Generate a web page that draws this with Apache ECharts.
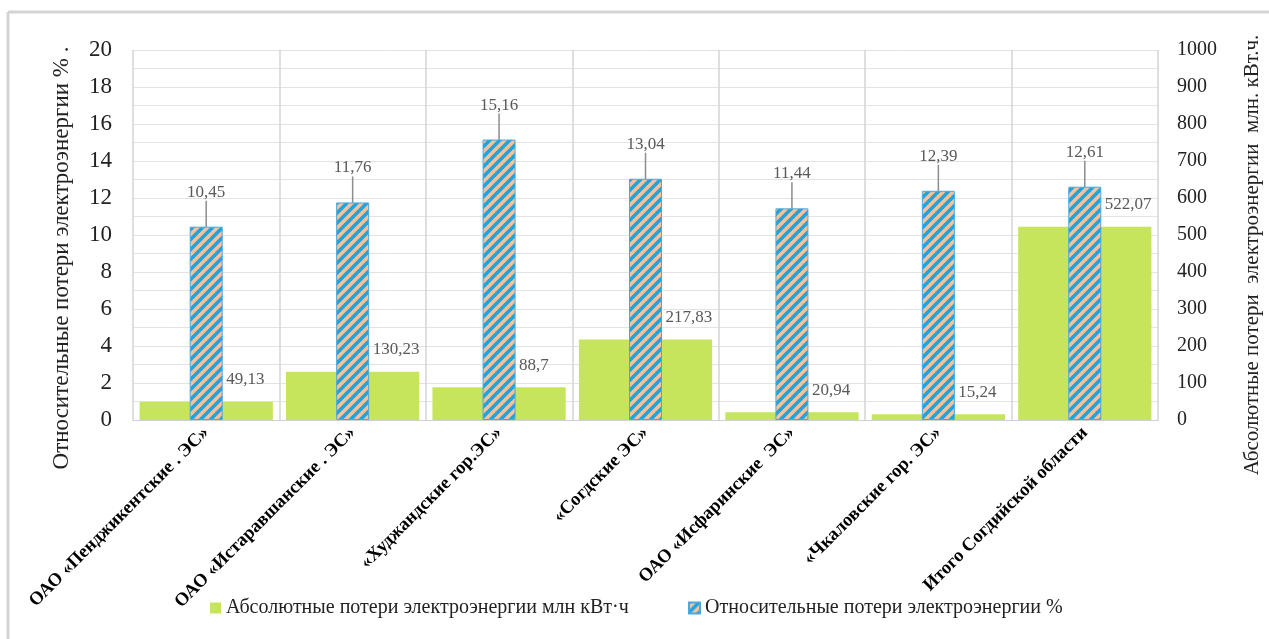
<!DOCTYPE html>
<html>
<head>
<meta charset="utf-8">
<script src="https://cdn.jsdelivr.net/npm/echarts@6/dist/echarts.min.js"></script>
<style>
  html, body { margin: 0; padding: 0; background: #fff; }
  #main { width: 1269px; height: 639px; }
</style>
</head>
<body>
<div id="main"></div>
<script>
// categories (x axis)
var categories = [
  'ОАО «Пенджикентские . ЭС»',
  'ОАО «Истаравшанские . ЭС»',
  '«Худжандские гор.ЭС»',
  '«Согдские ЭС»',
  'ОАО «Исфаринские  ЭС»',
  '«Чкаловские гор. ЭС»',
  'Итого Согдийской области'
];
// absolute losses, mln kWh (right axis)
var absLoss = [49.13, 130.23, 88.7, 217.83, 20.94, 15.24, 522.07];
// relative losses, % (left axis)
var relLoss = [10.45, 11.76, 15.16, 13.04, 11.44, 12.39, 12.61];

var absName = 'Абсолютные потери электроэнергии млн кВт·ч';
var relName = 'Относительные потери электроэнергии %';

// diagonal hatch for the relative series
function makeHatch() {
  var c = document.createElement('canvas');
  var s = 10;
  c.width = s; c.height = s;
  var ctx = c.getContext('2d');
  ctx.fillStyle = '#f8c29c';
  ctx.fillRect(0, 0, s, s);
  ctx.strokeStyle = '#1ea5de';
  ctx.lineWidth = 3.6;
  ctx.beginPath();
  ctx.moveTo(-2, s + 2); ctx.lineTo(s + 2, -2);
  ctx.moveTo(-2, 2); ctx.lineTo(2, -2);
  ctx.moveTo(s - 2, s + 2); ctx.lineTo(s + 2, s - 2);
  ctx.stroke();
  return c;
}
var hatch = { image: makeHatch(), repeat: 'repeat' };

function comma(p) {
  return String(p.value).replace('.', ',');
}

var font = 'Liberation Serif';
var chart = echarts.init(document.getElementById('main'));

var legendBase = {
  bottom: 16,
  itemWidth: 11,
  itemHeight: 11,
  icon: 'rect',
  formatter: '{t|{name}}',
  textStyle: {
    fontFamily: font, fontSize: 20, color: '#222',
    rich: { t: { fontFamily: font, fontSize: 20, color: '#222' } }
  }
};

var option = {
  animation: false,
  textStyle: { fontFamily: font },
  graphic: [
    { type: 'line', shape: { x1: 8, y1: 12, x2: 1269, y2: 12 }, style: { stroke: '#d4d4d4', lineWidth: 3 } },
    { type: 'line', shape: { x1: 8, y1: 12, x2: 8, y2: 639 }, style: { stroke: '#d4d4d4', lineWidth: 3 } }
  ],
  grid: { left: 133, right: 111, top: 50, bottom: 219, containLabel: false, outerBoundsMode: 'none' },
  legend: [
    Object.assign({}, legendBase, { left: 205, data: [absName] }),
    Object.assign({}, legendBase, { left: 683, data: [relName] })
  ],
  xAxis: [
    {
      type: 'category',
      data: categories,
      axisLine: { lineStyle: { color: '#d0d0d0', width: 1 } },
      axisTick: { show: false },
      splitLine: { show: true, interval: 0, lineStyle: { color: '#d4d4d4', width: 1.5 } },
      axisLabel: {
        interval: 0,
        rotate: 45,
        margin: 10,
        fontFamily: font,
        fontWeight: 'bold',
        fontSize: 18.5,
        color: '#000'
      }
    },
    {
      type: 'category',
      data: categories,
      show: false
    }
  ],
  yAxis: [
    {
      type: 'value',
      min: 0,
      max: 20,
      interval: 2,
      name: 'Относительные потери электроэнергии % .',
      nameLocation: 'middle',
      nameGap: 60,
      nameTextStyle: { fontFamily: font, fontSize: 23, color: '#222', padding: [0, 46, 0, 0] },
      axisLine: { show: false },
      axisTick: { show: false },
      axisLabel: { fontFamily: font, fontSize: 23, color: '#222', margin: 21 },
      splitLine: { show: true, lineStyle: { color: '#e3e3e3', width: 1 } },
      minorTick: { show: false, splitNumber: 2 },
      minorSplitLine: { show: true, lineStyle: { color: '#e3e3e3', width: 1 } }
    },
    {
      type: 'value',
      min: 0,
      max: 1000,
      interval: 100,
      name: 'Абсолютные потери  электроэнергии  млн. кВт.ч.',
      nameLocation: 'middle',
      nameGap: 84,
      nameRotate: 90,
      nameTextStyle: { fontFamily: font, fontSize: 21, color: '#222', padding: [0, 40, 0, 0] },
      axisLine: { show: false },
      axisTick: { show: false },
      axisLabel: {
        fontFamily: font, fontSize: 20, color: '#222', margin: 19,
        formatter: function (v) { return String(v); }
      },
      splitLine: { show: false }
    }
  ],
  series: [
    {
      name: absName,
      type: 'bar',
      xAxisIndex: 0,
      yAxisIndex: 1,
      barWidth: '91%',
      data: absLoss,
      itemStyle: { color: '#c6e45c' },
      label: {
        show: true,
        position: ['50%', 0],
        offset: [20, -22],
        align: 'left',
        verticalAlign: 'middle',
        formatter: comma,
        fontFamily: font,
        fontSize: 17,
        color: '#595959'
      },
      z: 2
    },
    {
      name: relName,
      type: 'bar',
      xAxisIndex: 1,
      yAxisIndex: 0,
      barWidth: 33,
      data: relLoss,
      itemStyle: { color: hatch, borderColor: '#4aa8e0', borderWidth: 1 },
      label: {
        show: true,
        position: 'top',
        distance: 0,
        formatter: comma,
        fontFamily: font,
        fontSize: 17,
        color: '#595959'
      },
      labelLayout: { dy: -26 },
      labelLine: { show: true, lineStyle: { color: '#8c8c8c', width: 1.5 } },
      z: 3
    }
  ]
};

chart.setOption(option);
</script>
</body>
</html>
